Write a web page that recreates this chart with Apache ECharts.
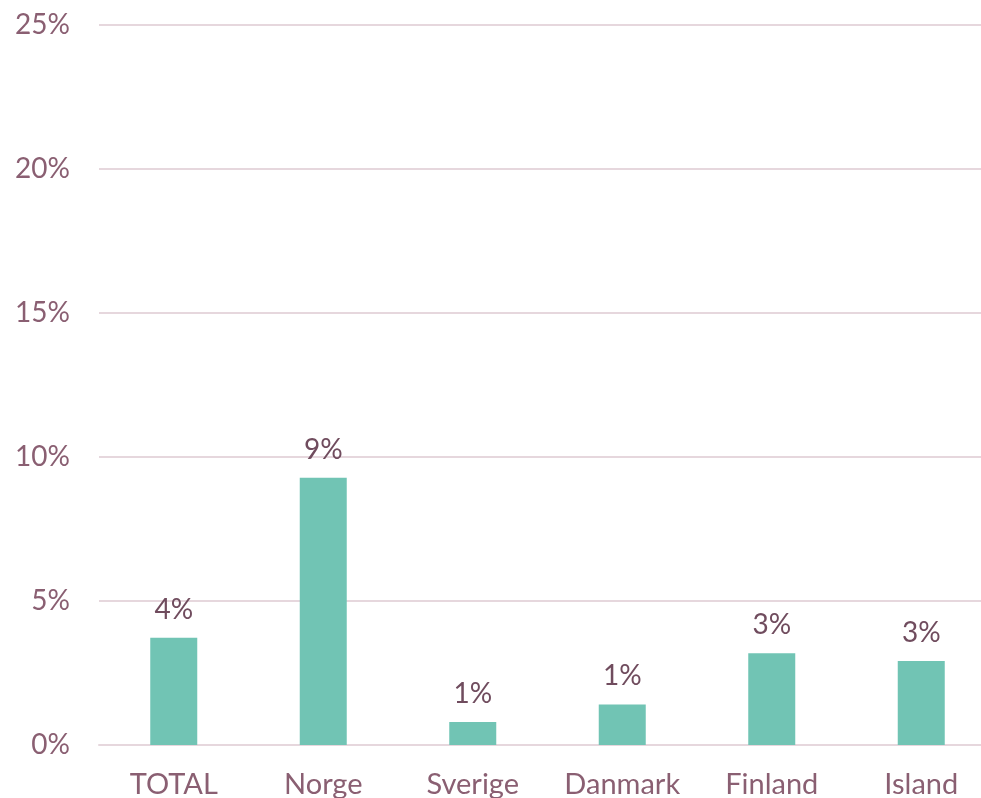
<!DOCTYPE html>
<html>
<head>
<meta charset="utf-8">
<script src="https://cdn.jsdelivr.net/npm/echarts@6/dist/echarts.min.js"></script>
<style>
  html, body { margin: 0; padding: 0; background: #fff; }
  #wrap { width: 981px; height: 798px; overflow: hidden; position: relative; }
  #chart { width: 996px; height: 798px; position: absolute; left: 0; top: 0; }
</style>
</head>
<body>
<div id="wrap"><div id="chart"></div></div>
<script>
const categories = ["TOTAL", "Norge", "Sverige", "Danmark", "Finland", "Island"];
const shares = [3.72, 9.28, 0.8, 1.41, 3.19, 2.92];
const yTicks = [0, 5, 10, 15, 20, 25];

const FONT = "Lato, 'Open Sans', sans-serif";
// chart is a bit wider than the window: the plot runs off the right edge like the reference
const chart = echarts.init(document.getElementById("chart"), null, { renderer: "canvas" });
chart.setOption({
  animation: false,
  backgroundColor: "#ffffff",
  grid: { left: 99, right: 0, top: 25, bottom: 53, containLabel: false, outerBoundsMode: "none" },
  xAxis: {
    type: "category",
    data: categories,
    axisLine: { show: true, lineStyle: { color: "#e6d7dd", width: 2 } },
    axisTick: { show: false },
    axisLabel: { interval: 0, color: "#8a5f72", fontFamily: FONT, fontSize: 29, margin: 25 }
  },
  yAxis: {
    type: "value",
    min: yTicks[0],
    max: yTicks[yTicks.length - 1],
    interval: 5,
    axisLine: { show: false },
    axisTick: { show: false },
    splitLine: { lineStyle: { color: "#e6d7dd", width: 2 } },
    axisLabel: {
      color: "#8a5f72", fontFamily: FONT, fontSize: 28, margin: 29,
      formatter: v => v + "%"
    }
  },
  series: [{
    type: "bar",
    data: shares,
    barWidth: 47,
    itemStyle: { color: "#71c4b4" },
    label: {
      show: true,
      position: "top",
      distance: 14,
      color: "#704c5e",
      fontFamily: FONT,
      fontSize: 28,
      formatter: p => Math.round(p.value) + "%"
    }
  }]
});
</script>
</body>
</html>
